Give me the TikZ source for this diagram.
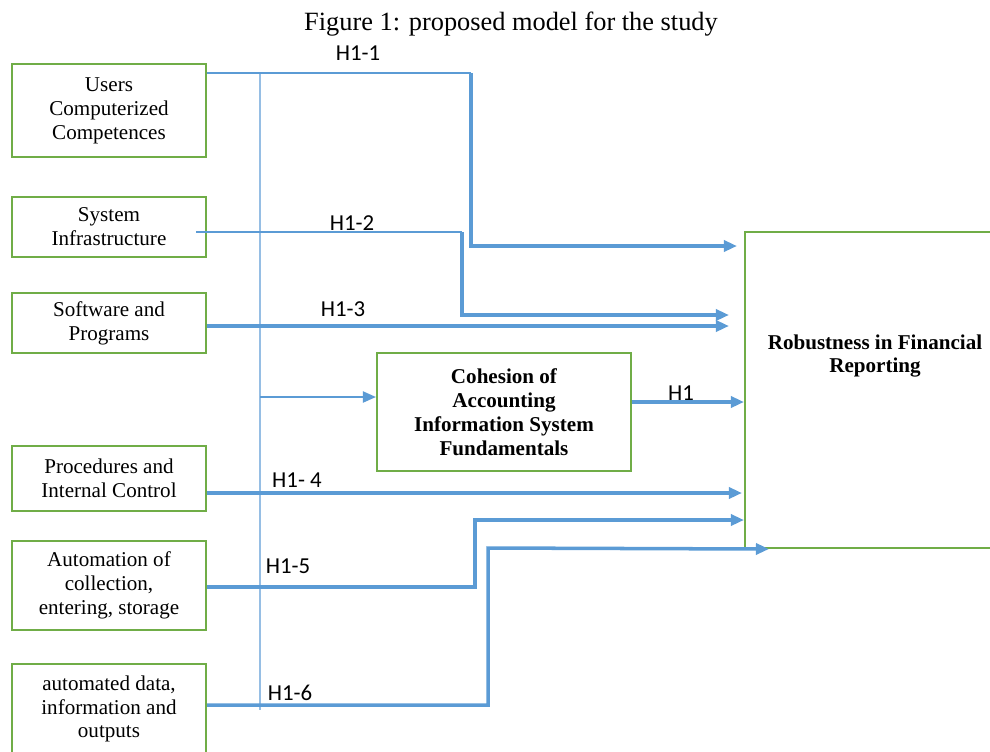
\documentclass[tikz,border=0pt]{standalone}
\usepackage{fontspec}
\setmainfont{Liberation Serif}
\newfontfamily\hypfont{Carlito}
\usetikzlibrary{arrows.meta}
\definecolor{boxgreen}{RGB}{112,173,71}
\definecolor{linkblue}{RGB}{91,155,213}
\definecolor{spineblue}{RGB}{150,190,228}
\begin{document}
\begin{tikzpicture}[x=0.02cm,y=-0.02cm,
    factor/.style={draw=boxgreen,line width=1.2pt,minimum width=3.88cm,align=center,inner sep=0pt,font=\fontsize{12}{13.6}\selectfont},
    link/.style={draw=linkblue,line width=2pt},
    thinlink/.style={draw=linkblue,line width=1.1pt},
    tip/.style={-{Triangle[length=2.6mm,width=2.2mm]}},
    hyp/.style={font=\hypfont\fontsize{13}{15}\selectfont,inner sep=0pt}]
  \useasboundingbox (0,0) rectangle (990,751);
  \clip (0,0) rectangle (990,751);

  \node[font=\fontsize{15}{17}\selectfont] (title) at (511,24) {Figure 1: proposed model for the study};

  \node[factor,minimum height=1.86cm] (ucc) at (109,110.5) {Users\\Computerized\\Competences};
  \node[factor,minimum height=1.2cm] (si) at (109,227) {System\\Infrastructure};
  \node[factor,minimum height=1.2cm] (sp) at (109,323) {Software and\\Programs};
  \node[factor,minimum height=1.3cm] (pic) at (109,478.5) {Procedures and\\Internal Control};
  \node[factor,minimum height=1.78cm] (ace) at (109,585.5) {Automation of\\collection,\\entering, storage};
  \node[factor,minimum height=1.8cm] (ado) at (109,709) {automated data,\\information and\\outputs};

  \node[factor,font=\bfseries\fontsize{12}{13.6}\selectfont,minimum width=5.08cm,minimum height=2.36cm] (caisf) at (504,412) {Cohesion of\\Accounting\\Information System\\Fundamentals};
  \node[draw=boxgreen,line width=1.2pt,minimum width=5.2cm,minimum height=6.32cm] (rfr) at (875,390) {};
  \node[align=center,font=\bfseries\fontsize{12}{13.6}\selectfont] (rfrtext) at (875,356) {Robustness in Financial\\Reporting};

  % spine
  \draw[draw=spineblue,line width=0.8pt] (260,73) -- (260,710);
  \draw[thinlink,tip] (260,397) -- (caisf.west |- 0,397);

  % H1-1 .. H1-6
  \draw[thinlink] (ucc.east |- 0,73) -- (471,73);
  \draw[link,tip,shorten >=0.14cm] (471,73) |- (rfr.west |- 0,246);
  \draw[thinlink] ([shift={(-11,5)}]si.east) -- (462,232);
  \draw[link,tip,shorten >=0.3cm] (462,232) |- (rfr.west |- 0,315);
  \draw[link,tip,shorten >=0.3cm] (sp.east |- 0,326) -- (rfr.west |- 0,326);
  \draw[link,tip] (caisf.east |- 0,402) -- (rfr.west |- 0,402);
  \draw[link,tip,shorten >=0.04cm] (pic.east |- 0,493) -- (rfr.west |- 0,493);
  \draw[link,tip] (ace.east |- 0,587) -| (475,520) -- (rfr.west |- 0,520);
  \draw[link,tip] (ado.east |- 0,705) -| (488,548) -- ([xshift=0.5cm]rfr.south west);

  \node[hyp] (h11) at (358,53) {H1-1};
  \node[hyp] (h12) at (352,223) {H1-2};
  \node[hyp] (h13) at (343,309) {H1-3};
  \node[hyp] (h1) at (681,393) {H1};
  \node[hyp] (h14) at (297,480) {H1- 4};
  \node[hyp] (h15) at (288,566) {H1-5};
  \node[hyp] (h16) at (290,693) {H1-6};
\end{tikzpicture}
\end{document}
